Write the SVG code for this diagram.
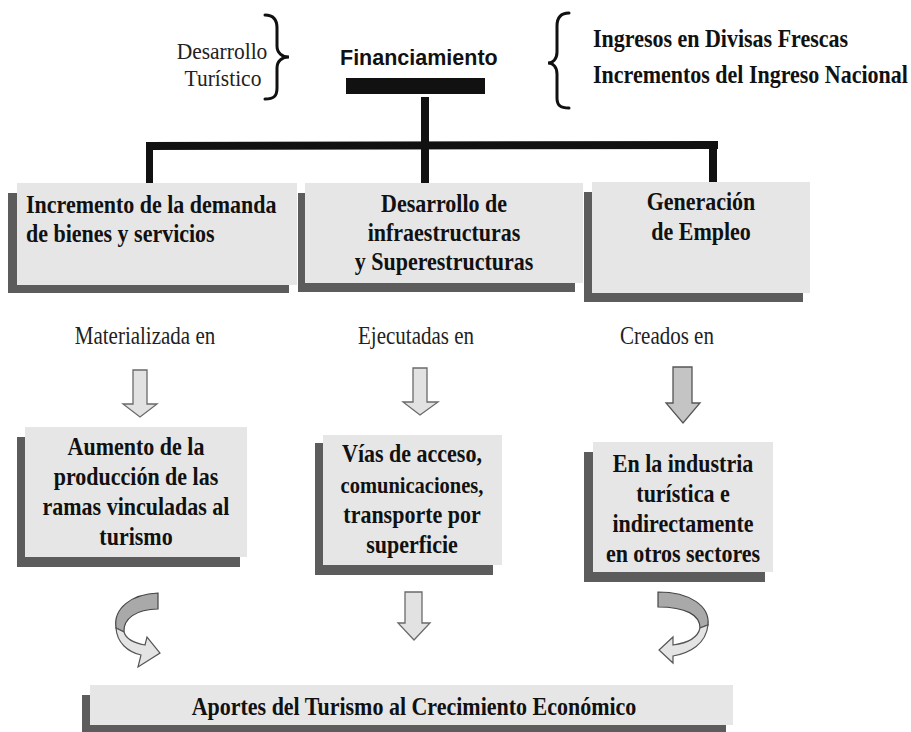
<svg xmlns="http://www.w3.org/2000/svg" width="911" height="732" viewBox="0 0 911 732">
<style>
  .lt { fill: #e6e6e6; }
  .dk { fill: #5c5c5c; }
  .b { font-family: "Liberation Serif", "Times New Roman", serif; font-weight: bold; font-size: 22px; fill: #111; }
  .r { font-family: "Liberation Serif", "Times New Roman", serif; font-size: 21px; fill: #222; }
  .s { font-family: "Liberation Sans", Arial, sans-serif; font-weight: bold; font-size: 21.5px; fill: #111; }
  .m { text-anchor: middle; }
  .ar { fill: #e2e2e2; stroke: #6a6a6a; stroke-width: 1.3; stroke-linejoin: miter; }
  .ar2 { fill: #c4c4c4; stroke: #555; stroke-width: 1.3; }
  .cd { fill: #a9a9a9; stroke: #444; stroke-width: 1.2; }
  .cl { fill: #e4e4e4; stroke: #555; stroke-width: 1.2; }
  .br { fill: none; stroke: #111; stroke-width: 3; stroke-linecap: round; }
</style>
<rect width="911" height="732" fill="#ffffff"/>

<g id="desarrollo-turistico">
  <text class="r m" transform="translate(222,59) scale(1,1.05)" style="font-size:21.5px">Desarrollo</text>
  <text class="r m" transform="translate(223,86) scale(1,1.05)" style="font-size:21.5px">Turístico</text>
  <path class="br" d="M265,15 C274,15 277,20 277,28 L277,46 C277,53 282,57 289,57 C282,57 277,61 277,68 L277,88 C277,96 274,99 265,99"/>
</g>

<g id="financiamiento">
  <text class="s" x="340" y="65">Financiamiento</text>
  <rect x="346" y="78" width="139" height="16" fill="#111"/>
</g>

<g id="ingresos">
  <path class="br" d="M569,13 C560,13 557,18 557,26 L557,52 C557,59 553,63 548,63 C553,63 557,67 557,74 L557,98 C557,105 560,108 569,108"/>
  <text class="b" transform="translate(593,47) scale(1,1.15)">Ingresos en Divisas Frescas</text>
  <text class="b" transform="translate(593,83) scale(1,1.15)">Incrementos del Ingreso Nacional</text>
</g>

<g id="connectors">
  <rect x="421" y="97" width="8" height="87" fill="#111"/>
  <path d="M146,142 L718,141 L718,149 L146,150 Z" fill="#111"/>
  <rect x="146" y="142" width="7" height="42" fill="#111"/>
  <rect x="709" y="141" width="8" height="42" fill="#111"/>
  <path class="ar" d="M133,370 L147,370 L147,404 L157,404 L140,417 L123,404 L133,404 Z"/>
  <path class="ar" d="M413,368 L427,368 L427,402 L438,402 L420,415 L403,402 L413,402 Z"/>
  <path class="ar2" d="M673,367 L692,367 L692,403 L700,403 L683,423 L666,403 L673,403 Z"/>
  <path class="ar" d="M405,592 L422,592 L422,623 L430,623 L414,640 L398,623 L405,623 Z"/>
  <path class="cd" d="M158,593 C132,594 113,608 116,628 L124,632 C123,619 136,609 158,609 Z"/>
  <path class="cl" d="M116,628 C117,643 128,652 141,655 L138,667 L160,653 L147,637 L145,645 C134,643 126,639 124,632 Z"/>
  <path class="cd" d="M658,592 C690,592 710,606 708,625 L700,628 C700,615 686,607 658,607 Z"/>
  <path class="cl" d="M708,625 C706,644 690,653 673,656 L673,663 L659,650 L673,637 L673,645 C688,643 698,637 700,628 Z"/>
</g>

<g id="incremento-demanda">
  <rect class="dk" x="8" y="193" width="281" height="100"/>
  <rect class="lt" x="17" y="183" width="280" height="102"/>
  <text class="b" transform="translate(26,213) scale(1,1.15)">Incremento de la demanda</text>
  <text class="b" transform="translate(26,242) scale(1,1.15)">de bienes y servicios</text>
</g>

<g id="desarrollo-infraestructuras">
  <rect class="dk" x="298" y="193" width="277" height="99"/>
  <rect class="lt" x="305" y="183" width="278" height="100"/>
  <text class="b m" transform="translate(444,212) scale(1,1.15)">Desarrollo de</text>
  <text class="b m" transform="translate(444,241) scale(1,1.15)">infraestructuras</text>
  <text class="b m" transform="translate(444,270) scale(1,1.15)">y Superestructuras</text>
</g>

<g id="generacion-empleo">
  <rect class="dk" x="584" y="192" width="219" height="110"/>
  <rect class="lt" x="592" y="182" width="218" height="111"/>
  <text class="b m" transform="translate(701,210) scale(1,1.15)">Generación</text>
  <text class="b m" transform="translate(701,240) scale(1,1.15)">de Empleo</text>
</g>

<g id="labels">
  <text class="r m" transform="translate(145,344) scale(1,1.15)">Materializada en</text>
  <text class="r m" transform="translate(416,344) scale(1,1.15)">Ejecutadas en</text>
  <text class="r m" transform="translate(667,344) scale(1,1.15)">Creados en</text>
</g>

<g id="aumento-produccion">
  <rect class="dk" x="17" y="437" width="223" height="130"/>
  <rect class="lt" x="25" y="427" width="222" height="130"/>
  <text class="b m" transform="translate(136,455) scale(1,1.15)">Aumento de la</text>
  <text class="b m" transform="translate(136,485) scale(1,1.15)">producción de las</text>
  <text class="b m" transform="translate(136,515) scale(1,1.15)">ramas vinculadas al</text>
  <text class="b m" transform="translate(136,545) scale(1,1.15)">turismo</text>
</g>

<g id="vias-acceso">
  <rect class="dk" x="315" y="443" width="178" height="132"/>
  <rect class="lt" x="323" y="435" width="179" height="130"/>
  <text class="b m" transform="translate(412,462) scale(1,1.15)">Vías de acceso,</text>
  <text class="b m" transform="translate(412,493) scale(1,1.15)" style="font-size:20.5px">comunicaciones,</text>
  <text class="b m" transform="translate(412,523) scale(1,1.15)">transporte por</text>
  <text class="b m" transform="translate(412,553) scale(1,1.15)">superficie</text>
</g>

<g id="industria-turistica">
  <rect class="dk" x="584" y="452" width="181" height="130"/>
  <rect class="lt" x="593" y="442" width="180" height="130"/>
  <text class="b m" transform="translate(683,472) scale(1,1.15)">En la industria</text>
  <text class="b m" transform="translate(683,502) scale(1,1.15)">turística e</text>
  <text class="b m" transform="translate(683,532) scale(1,1.15)">indirectamente</text>
  <text class="b m" transform="translate(683,562) scale(1,1.15)">en otros sectores</text>
</g>

<g id="aportes">
  <rect class="dk" x="82" y="695" width="644" height="37"/>
  <rect class="lt" x="90" y="685" width="643" height="40"/>
  <text class="b m" transform="translate(414,715) scale(1,1.15)">Aportes del Turismo al Crecimiento Económico</text>
</g>
</svg>
